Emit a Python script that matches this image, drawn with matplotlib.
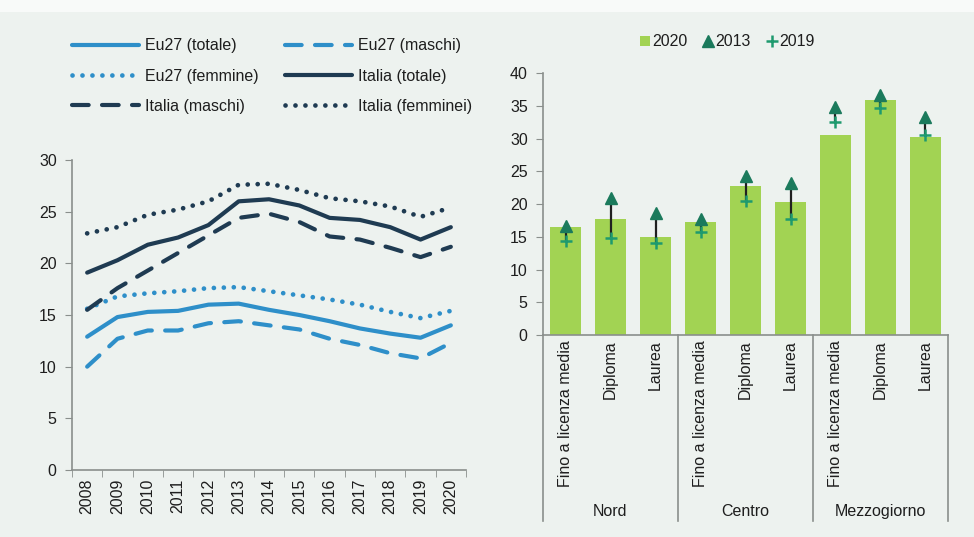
import matplotlib
matplotlib.use("Agg")
import matplotlib.pyplot as plt
import matplotlib.transforms as mtransforms
from matplotlib.patches import Rectangle

plt.rcParams['font.family'] = ['Liberation Sans', 'DejaVu Sans']
plt.rcParams['font.size'] = 11.5

# ---------------- data ----------------
years = [2008, 2009, 2010, 2011, 2012, 2013, 2014, 2015, 2016, 2017, 2018, 2019, 2020]
eu27_totale = [12.9, 14.8, 15.3, 15.4, 16.0, 16.1, 15.5, 15.0, 14.4, 13.7, 13.2, 12.8, 14.0]
eu27_maschi = [10.0, 12.7, 13.5, 13.5, 14.2, 14.4, 14.0, 13.6, 12.7, 12.1, 11.3, 10.8, 12.3]
eu27_femmine = [15.6, 16.8, 17.1, 17.3, 17.6, 17.7, 17.3, 16.9, 16.5, 16.0, 15.3, 14.7, 15.4]
italia_totale = [19.1, 20.3, 21.8, 22.5, 23.7, 26.0, 26.2, 25.6, 24.4, 24.2, 23.5, 22.3, 23.5]
italia_maschi = [15.5, 17.6, 19.3, 21.0, 22.7, 24.4, 24.8, 24.0, 22.6, 22.3, 21.5, 20.6, 21.6]
italia_femminei = [22.9, 23.5, 24.7, 25.2, 26.0, 27.6, 27.7, 27.1, 26.3, 26.0, 25.5, 24.5, 25.4]

regions = ["Nord", "Centro", "Mezzogiorno"]
levels = ["Fino a licenza media", "Diploma", "Laurea"]
v2020 = [16.5, 17.8, 15.0, 17.2, 22.7, 20.4, 30.5, 35.9, 30.3]
v2013 = [16.7, 20.9, 18.7, 17.8, 24.3, 23.2, 34.9, 36.7, 33.3]
v2019 = [14.3, 14.9, 14.0, 15.8, 20.5, 17.7, 32.5, 34.7, 30.6]

# ---------------- style ----------------
bg = '#edf2ef'
light = '#2e8fc9'
dark = '#1f3b52'
green_bar = '#a2d353'
tri_col = '#1b7a5c'
cross_col = '#1e9a6e'
spine_col = '#8a8f8c'
txt = '#1e1e1e'

fig = plt.figure(figsize=(9.74, 5.37), dpi=100, facecolor=bg)
fig.patches.append(Rectangle((0, 1 - 12/537), 1, 12/537, transform=fig.transFigure,
                             facecolor='#f8faf9', edgecolor='none', zorder=0))

# ---------------- left chart ----------------
ax1 = fig.add_axes([72/974, 1 - 470/537, (466 - 72)/974, (470 - 160)/537])
ax1.set_facecolor('none')
lw = 3.0
dash = (0, (4.0, 3.2))
dot = (0, (0.01, 2.1))
series = [
    ("Eu27 (totale)", eu27_totale, light, '-', lw),
    ("Eu27 (maschi)", eu27_maschi, light, dash, lw),
    ("Eu27 (femmine)", eu27_femmine, light, dot, 3.4),
    ("Italia (totale)", italia_totale, dark, '-', lw),
    ("Italia (maschi)", italia_maschi, dark, dash, lw),
    ("Italia (femminei)", italia_femminei, dark, dot, 3.4),
]
handles = {}
for name, vals, col, ls, w in series:
    h, = ax1.plot(years, vals, color=col, lw=w, linestyle=ls,
                  dash_capstyle='round', solid_capstyle='round', label=name)
    handles[name] = h

ax1.set_xlim(years[0] - 0.5, years[-1] + 0.5)
ax1.set_ylim(0, 30)
ax1.set_yticks(range(0, 31, 5))
ax1.set_xticks(years)
ax1.set_xticklabels([str(y) for y in years], rotation=90)
ax1.set_xticks([y - 0.5 for y in years] + [years[-1] + 0.5], minor=True)
ax1.tick_params(axis='x', which='major', length=0, pad=6, colors=txt)
ax1.tick_params(axis='x', which='minor', length=5, color=spine_col, direction='out')
ax1.tick_params(axis='y', length=5, color=spine_col, colors=txt, pad=6)
for s in ['top', 'right']:
    ax1.spines[s].set_visible(False)
for s in ['left', 'bottom']:
    ax1.spines[s].set_color(spine_col)
    ax1.spines[s].set_linewidth(1.2)

order = ["Eu27 (totale)", "Eu27 (femmine)", "Italia (maschi)",
         "Eu27 (maschi)", "Italia (totale)", "Italia (femminei)"]
leg = fig.legend([handles[n] for n in order], order, ncol=2, frameon=False,
                 loc='center', bbox_to_anchor=(272/974, 1 - 76/537),
                 handlelength=4.2, handletextpad=0.4, columnspacing=1.6,
                 labelspacing=0.95, fontsize=11.5)
for t in leg.get_texts():
    t.set_color(txt)

# ---------------- right chart ----------------
ax2 = fig.add_axes([543/974, 1 - 335/537, (948 - 543)/974, (335 - 73.3)/537])
ax2.set_facecolor('none')
xpos = list(range(len(v2020)))
hb = ax2.bar(xpos, v2020, width=0.7, color=green_bar, label='2020', zorder=2)
ax2.vlines(xpos, v2019, v2013, color='#202020', lw=1.6, zorder=3)
ht, = ax2.plot(xpos, v2013, linestyle='none', marker='^', markersize=8,
               color=tri_col, label='2013', zorder=4)
hc, = ax2.plot(xpos, v2019, linestyle='none', marker='+', markersize=9,
               markeredgewidth=1.8, color=cross_col, label='2019', zorder=5)
ax2.set_xlim(-0.5, len(v2020) - 0.5)
ax2.set_ylim(0, 40)
ax2.set_yticks(range(0, 41, 5))
ax2.set_xticks(xpos)
ax2.set_xticklabels([])
ax2.tick_params(axis='x', length=0)
ax2.tick_params(axis='y', length=5, color=spine_col, colors=txt, pad=6)
for s in ['top', 'right']:
    ax2.spines[s].set_visible(False)
for s in ['left', 'bottom']:
    ax2.spines[s].set_color(spine_col)
    ax2.spines[s].set_linewidth(1.2)

trans = mtransforms.blended_transform_factory(ax2.transData, ax2.transAxes)
for i, x in enumerate(xpos):
    ax2.text(x, -0.02, levels[i % 3], rotation=90, ha='center', va='top',
             transform=trans, color=txt, fontsize=11.5)
nb = len(levels)
for g, reg in enumerate(regions):
    ax2.text(g * nb + (nb - 1) / 2, -0.675, reg, ha='center', va='center',
             transform=trans, color=txt, fontsize=11.5)
for b in range(len(regions) + 1):
    ax2.plot([b * nb - 0.5, b * nb - 0.5], [0, -0.71], transform=trans,
             color=spine_col, lw=1.2, clip_on=False)

leg2 = ax2.legend([hb, ht, hc], ['2020', '2013', '2019'], loc='center',
                  bbox_to_anchor=(0.455, (335 - 42) / 261.7),
                  ncol=3, frameon=False, handlelength=0.6, handleheight=0.6,
                  handletextpad=0.15, columnspacing=1.0, fontsize=11.5)
for t in leg2.get_texts():
    t.set_color(txt)

fig.savefig("out.png", dpi=100, facecolor=bg)
